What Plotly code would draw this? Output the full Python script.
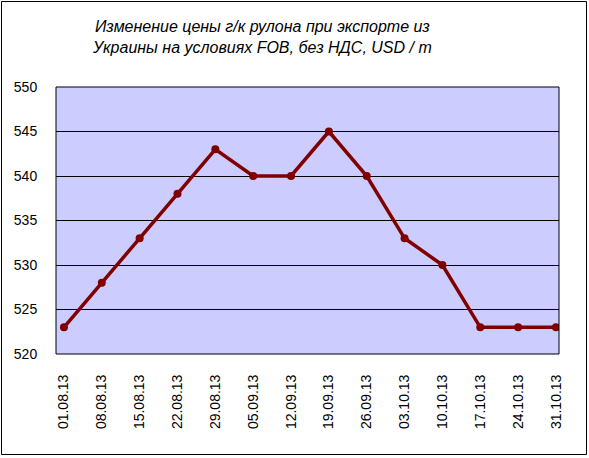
import plotly.graph_objects as go

dates = ["01.08.13", "08.08.13", "15.08.13", "22.08.13", "29.08.13", "05.09.13", "12.09.13",
         "19.09.13", "26.09.13", "03.10.13", "10.10.13", "17.10.13", "24.10.13", "31.10.13"]
prices = [523, 528, 533, 538, 543, 540, 540, 545, 540, 533, 530, 523, 523, 523]
y_ticks = [520, 525, 530, 535, 540, 545, 550]
title_text = "Изменение цены г/к рулона при экспорте из<br>Украины на условиях FOB, без НДС, USD / т"

W, H = 589, 458
L, R, T, B = 56, 559, 87, 354

idx = list(range(len(dates)))

fig = go.Figure()
fig.add_trace(go.Scatter(
    x=idx, y=prices, mode="lines+markers",
    line=dict(color="#800000", width=3.5),
    marker=dict(color="#800000", size=8, symbol="circle"),
    hoverinfo="skip", showlegend=False,
))

def px_x(p):
    return (p - L) / (R - L)

def px_y(p):
    return (B - p) / (B - T)

fig.update_layout(
    width=W, height=H,
    margin=dict(l=L, r=W - R, t=T, b=H - B),
    paper_bgcolor="white",
    plot_bgcolor="#CCCCFF",
    font=dict(family="Liberation Sans, Arial, sans-serif", color="black", size=14),
    annotations=[dict(
        text=title_text, xref="paper", yref="paper",
        x=px_x(262), y=px_y(36.5), xanchor="center", yanchor="middle",
        showarrow=False, align="center",
        font=dict(size=16, style="italic", family="Liberation Sans, Arial, sans-serif"),
    )],
    shapes=[
        dict(type="rect", xref="paper", yref="paper",
             x0=px_x(1.5), x1=px_x(586.5), y0=px_y(454.5), y1=px_y(1.5),
             line=dict(color="black", width=1), fillcolor="rgba(0,0,0,0)", layer="below"),
        dict(type="rect", xref="paper", yref="paper",
             x0=0, x1=1, y0=0, y1=1,
             line=dict(color="black", width=1), fillcolor="rgba(0,0,0,0)", layer="above"),
    ],
    xaxis=dict(
        range=[-0.21, 13.08], tickmode="array", tickvals=idx, ticktext=dates,
        tickangle=-90, showgrid=False, zeroline=False, showline=False,
        ticks="outside", ticklen=14, tickcolor="rgba(0,0,0,0)",
        tickfont=dict(size=14), fixedrange=True,
    ),
    yaxis=dict(
        range=[520, 550], tickmode="array", tickvals=y_ticks,
        showgrid=True, gridcolor="black", gridwidth=1, zeroline=False, showline=False,
        ticks="outside", ticklen=15, tickcolor="rgba(0,0,0,0)",
        tickfont=dict(size=14), fixedrange=True,
    ),
)

fig.write_html("out.html", config={"displayModeBar": False},
               post_script="document.body.style.margin='0';")
